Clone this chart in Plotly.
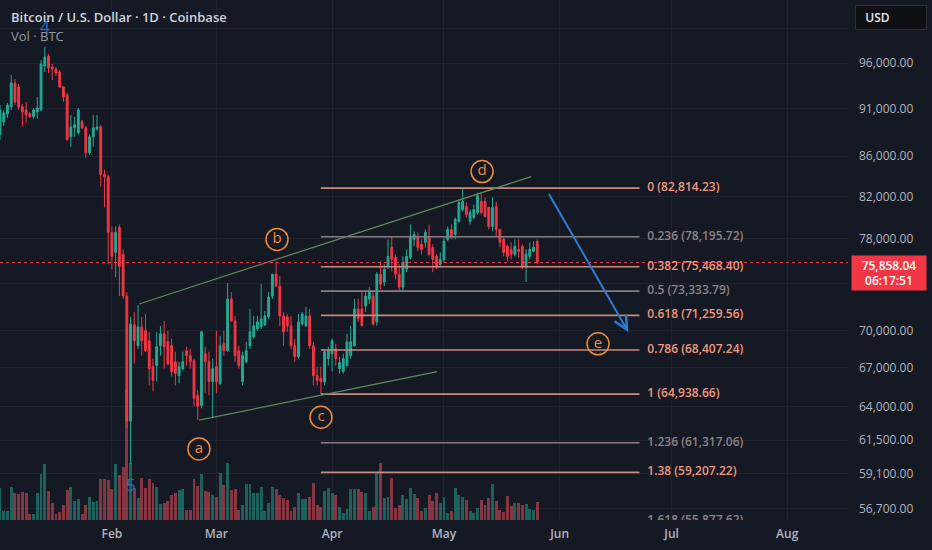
import math
import pandas as pd
import plotly.graph_objects as go

# ---------------- data ----------------
dates = pd.date_range("2026-01-02", periods=145, freq="D")

opens = [88200, 89560, 90410, 91150, 93760, 93320, 91150, 90830, 90410, 90090,
         90620, 90830, 95660, 96800, 95550, 95320, 94990, 93320, 92450, 87990,
         88930, 88410, 89560, 88930, 86350, 87990, 88820, 89030, 84150, 83950,
         78600, 76770, 79060, 76590, 72910, 62900, 70470, 68750, 70300, 69980,
         69160, 67080, 67160, 68750, 69730, 69080, 68750, 67470, 66370, 66920,
         68350, 67950, 67550, 64850, 64090, 68110, 67470, 65910, 67080, 65760,
         68910, 68350, 72650, 70800, 68350, 65910, 67470, 68750, 69480, 70140,
         70300, 70470, 71140, 72910, 74810, 73770, 71220, 71140, 70390, 68750,
         67870, 70550, 70390, 71220, 68750, 66370, 66140, 65910, 67710, 68110,
         68510, 66920, 66690, 67160, 67950, 68750, 71810, 71810, 72060, 72650,
         72910, 70720, 74810, 74120, 75520, 77220, 76320, 74810, 73680, 75250,
         76320, 77950, 78220, 77500, 77680, 78220, 77220, 76410, 75700, 76140,
         77950, 78880, 78410, 79620, 80750, 81040, 79620, 80000, 80470, 81520,
         81520, 80940, 79150, 81040, 78880, 77950, 77320, 77040, 76590, 77040,
         77320, 75430, 76410, 76860, 77770]

highs = [91360, 90830, 91580, 94650, 94200, 93650, 91470, 91690, 90620, 91040,
         92230, 96340, 97830, 97030, 95890, 95550, 95210, 93430, 92670, 90300,
         90090, 91040, 89770, 89130, 88200, 90300, 90300, 89240, 84640, 84150,
         79150, 79150, 79340, 77040, 73250, 71140, 71560, 72140, 71140, 71390,
         69890, 67710, 69890, 70390, 70800, 69980, 69320, 68270, 67470, 68270,
         68670, 68510, 67710, 65230, 69980, 68670, 68270, 67710, 69980, 69560,
         69980, 74030, 73250, 71220, 68750, 68270, 69080, 71810, 71220, 71220,
         73940, 71640, 73250, 74810, 75960, 74640, 71560, 71390, 71220, 69320,
         71390, 71560, 71980, 71810, 69080, 67080, 67080, 68350, 68670, 69320,
         68910, 67870, 68110, 69730, 70390, 72650, 72650, 73250, 73340, 73680,
         73250, 75000, 75960, 75700, 77950, 78220, 76590, 75700, 76410, 77040,
         79340, 78690, 78600, 77950, 78880, 79340, 77500, 76590, 76770, 78130,
         79150, 79340, 80000, 81710, 82814.23, 81420, 80750, 81230, 82380, 82380,
         81900, 81040, 81900, 81520, 78880, 78220, 77500, 77680, 77950, 77950,
         77500, 77040, 77680, 77770, 77950]

lows = [87680, 89130, 89980, 90830, 91360, 90830, 89030, 89450, 89980, 89880,
        89880, 90730, 94990, 94880, 94090, 94540, 93210, 91690, 87580, 86970,
        87990, 88200, 88820, 85840, 86150, 86970, 88610, 82970, 80940, 75700,
        75250, 74550, 72910, 72650, 62380, 59800, 67320, 68510, 67950, 68270,
        65610, 65150, 65910, 67950, 66920, 67160, 66290, 65610, 65760, 66760,
        67160, 66920, 64010, 62970, 63860, 65000, 64850, 63120, 65000, 65610,
        67950, 68270, 70720, 67470, 66920, 65610, 67320, 68510, 69320, 69980,
        70140, 70390, 70970, 72650, 73770, 70390, 68750, 69890, 68510, 67470,
        67710, 70390, 70300, 68510, 65610, 65610, 64938.66, 65610, 67160, 66690,
        67160, 66530, 66530, 67080, 67710, 68670, 70720, 70390, 71560, 72230,
        70390, 70390, 73510, 73770, 75250, 75070, 74380, 73340, 73340, 74990,
        76140, 77320, 76860, 76590, 77220, 76410, 74990, 75250, 75520, 75870,
        77770, 77950, 77950, 79530, 80560, 80000, 79340, 79810, 80280, 80280,
        80000, 78880, 78690, 78220, 77220, 76410, 75960, 76140, 76410, 76320,
        75250, 74120, 76140, 76770, 75700]

closes = [90830, 90510, 91360, 93760, 91680, 91150, 90620, 90300, 90090, 90830,
          91040, 95890, 96680, 95430, 95320, 94880, 93320, 92230, 87680, 89030,
          89240, 90830, 88930, 86350, 87990, 88930, 89030, 84150, 83950, 78600,
          76410, 78600, 75520, 72910, 62900, 70550, 69160, 70300, 69160, 68350,
          66920, 65990, 68670, 69730, 68670, 67320, 66690, 66530, 67080, 67470,
          67950, 67470, 64620, 64010, 69890, 67470, 65910, 66920, 65910, 68750,
          68350, 72650, 70800, 67950, 67160, 67950, 68350, 69890, 70390, 70720,
          70970, 71220, 72820, 74810, 73770, 71220, 69890, 70390, 68750, 67870,
          70720, 71390, 71220, 68750, 66370, 65990, 65910, 68270, 68350, 69160,
          67710, 67400, 67710, 69080, 69080, 71810, 70970, 70390, 72910, 73340,
          70550, 74810, 73940, 75250, 76410, 76140, 74810, 73680, 75870, 76410,
          78220, 78410, 77220, 77040, 78600, 76590, 76140, 75430, 76140, 77770,
          78880, 78130, 79810, 81420, 81520, 80280, 80470, 80750, 82090, 80470,
          80090, 79150, 80940, 78880, 77680, 76770, 76410, 76590, 77320, 76860,
          75430, 76590, 77040, 77220, 75858.04]

volumes = [12800, 3600, 3600, 13200, 10800, 10400, 11200, 10800, 2400, 2400,
           10800, 18400, 22400, 11600, 6800, 2400, 3200, 6000, 12000, 13200,
           7600, 8400, 2400, 6000, 9200, 7200, 7600, 16400, 16400, 16000,
           12400, 22400, 18000, 21200, 52000, 22800, 12800, 8800, 16800, 12800,
           16400, 14800, 13200, 6400, 6800, 7600, 10000, 10800, 12000, 12400,
           4000, 4000, 16400, 13600, 18400, 11600, 11200, 10000, 9200, 18800,
           14000, 22800, 12000, 12400, 4000, 6000, 14400, 14400, 10800, 10800,
           13200, 3600, 6800, 13200, 12400, 10000, 8800, 8000, 3600, 5200,
           10800, 8400, 8400, 9200, 14800, 6000, 5200, 11600, 12800, 10800,
           10000, 5200, 2800, 4400, 12400, 12400, 12400, 11200, 10800, 3600,
           5200, 18800, 22800, 8800, 9200, 16800, 4800, 6000, 10000, 8400,
           12800, 10400, 8800, 3600, 4800, 10000, 7600, 10800, 6800, 9200,
           2800, 3600, 12800, 10000, 9200, 8000, 3600, 2800, 4800, 8000,
           6000, 8800, 14400, 7600, 4000, 3200, 9600, 5600, 6800, 6800,
           6000, 6400, 4400, 4000, 7200]

fib_ratios = ["0", "0.236", "0.382", "0.5", "0.618", "0.786", "1", "1.236", "1.38", "1.618"]
fib_prices = [82814.23, 78195.72, 75468.40, 73333.79, 71259.56, 68407.24,
              64938.66, 61317.06, 59207.22, 55877.62]
fib_muted = [False, True, False, True, False, False, False, True, False, True]

price_ticks = [100000, 96000, 91000, 86000, 82000, 78000, 74000, 70000, 67000,
               64000, 61500, 59100, 56700]
price_tick_labels = ["", "96,000.00", "91,000.00", "86,000.00", "82,000.00",
                     "78,000.00", "", "70,000.00", "67,000.00", "64,000.00",
                     "61,500.00", "59,100.00", "56,700.00"]

wave_labels = ["a", "b", "c", "d", "e"]
wave_dates = ["2026-02-24 08:00", "2026-03-17 06:00", "2026-03-29 01:00",
              "2026-05-11 05:00", "2026-06-11 07:00"]
wave_prices = [60870, 77950, 63190, 84450, 68910]

upper_line_dates = ["2026-02-08 06:30", "2026-05-24 09:00"]
upper_line_prices = [72230, 83950]
lower_line_dates = ["2026-02-24 08:00", "2026-04-29 04:00"]
lower_line_prices = [62970, 66690]

last_price = 75858.04
countdown = "06:17:51"

# ---------------- style ----------------
BG = "#151924"
GRID = "#1f2330"
TXT = "#b2b5be"
UP = "#22ab94"
DN = "#f23645"
FONT = "Open Sans"

x_start = "2026-01-02 00:00"
x_end = "2026-08-17 07:00"
fib_x0 = "2026-03-29 00:00"
fib_x1 = "2026-06-22 10:00"
fib_lbl_x = "2026-06-24 12:00"

fig = go.Figure()

vol_colors = ["rgba(34,171,148,0.5)" if c >= o else "rgba(247,82,95,0.5)"
              for o, c in zip(opens, closes)]
fig.add_trace(go.Bar(x=dates, y=volumes, marker=dict(color=vol_colors, line_width=0),
                     width=0.78 * 86400000, yaxis="y", hoverinfo="skip",
                     showlegend=False))

# fib lines
for r, p, m in zip(fib_ratios, fib_prices, fib_muted):
    fig.add_trace(go.Scatter(x=[fib_x0, fib_x1], y=[p, p], mode="lines",
                             line=dict(color="#8a7c80" if m else "#c88a80", width=1.6),
                             yaxis="y2", hoverinfo="skip", showlegend=False))

# trend lines
fig.add_trace(go.Scatter(x=upper_line_dates, y=upper_line_prices, mode="lines",
                         line=dict(color="#5d8a5c", width=1.2), yaxis="y2",
                         hoverinfo="skip", showlegend=False))
fig.add_trace(go.Scatter(x=lower_line_dates, y=lower_line_prices, mode="lines",
                         line=dict(color="#5d8a5c", width=1.2), yaxis="y2",
                         hoverinfo="skip", showlegend=False))

# last price dotted line
fig.add_trace(go.Scatter(x=[x_start, x_end], y=[last_price, last_price], mode="lines",
                         line=dict(color=DN, width=1, dash="dot"), yaxis="y2",
                         hoverinfo="skip", showlegend=False))

fig.add_trace(go.Candlestick(
    x=dates, open=opens, high=highs, low=lows, close=closes, yaxis="y2",
    increasing=dict(line=dict(color=UP, width=1), fillcolor=UP),
    decreasing=dict(line=dict(color=DN, width=1), fillcolor=DN),
    whiskerwidth=0, showlegend=False, hoverinfo="skip"))

# fib labels (clipped to plot area)
fig.add_trace(go.Scatter(
    x=[fib_lbl_x] * len(fib_prices), y=fib_prices, mode="text",
    text=[f"{r} ({p:,.2f})" for r, p in zip(fib_ratios, fib_prices)],
    textposition="middle right",
    textfont=dict(family=FONT, size=12, weight=600,
                  color=["#8f8285" if m else "#f0967e" for m in fib_muted]),
    yaxis="y2", hoverinfo="skip", showlegend=False, cliponaxis=True))

# wave labels
fig.add_trace(go.Scatter(
    x=wave_dates, y=wave_prices, mode="markers+text", text=wave_labels,
    textposition="middle center",
    marker=dict(symbol="circle-open", size=22, color="#ef8a3c",
                line=dict(width=1.5, color="#ef8a3c")),
    textfont=dict(family=FONT, size=15, color="#ef8a3c"),
    yaxis="y2", hoverinfo="skip", showlegend=False))

annotations = [
    dict(x="2026-01-14 01:00", y=math.log10(100200), xref="x", yref="y2", text="4",
         showarrow=False, font=dict(family=FONT, size=17, color="#2f68b8")),
    dict(x="2026-02-06 03:00", y=math.log10(58330), xref="x", yref="y2", text="5",
         showarrow=False, font=dict(family=FONT, size=17, color="#2f68b8")),
    dict(x=9 / 848, y=1 - 17 / 520, xref="paper", yref="paper",
         text="Bitcoin / U.S. Dollar · 1D · Coinbase", showarrow=False,
         xanchor="left", yanchor="middle",
         font=dict(family=FONT, size=13, color="#d1d4dc", weight=600)),
    dict(x=9 / 848, y=1 - 36 / 520, xref="paper", yref="paper",
         text="Vol · BTC", showarrow=False, xanchor="left", yanchor="middle",
         font=dict(family=FONT, size=13, color="#9598a1")),
    # forecast arrow
    dict(x="2026-06-19 10:00", y=math.log10(69880), xref="x", yref="y2",
         ax="2026-05-28 22:00", ay=math.log10(82390), axref="x", ayref="y2",
         text="", showarrow=True, arrowhead=5, arrowsize=1.3, arrowwidth=2,
         arrowcolor="#2f7bd0"),
    # USD box
    dict(x=855 / 848, y=1 - 17.5 / 520, xref="paper", yref="paper",
         text="&nbsp;&nbsp;USD", showarrow=False, xanchor="left", yanchor="middle",
         align="left", width=64, height=17, borderpad=3, borderwidth=1,
         bordercolor="#2a2e39", bgcolor="#0e1014",
         font=dict(family=FONT, size=12, color="#e6e8ee", weight=600)),
    # last price box
    dict(x=851 / 848, y=1 - 273 / 520, xref="paper", yref="paper",
         text=f"{last_price:,.2f}<br>{countdown}", showarrow=False,
         xanchor="left", yanchor="middle", align="center", width=70, height=30,
         borderpad=2, bgcolor=DN,
         font=dict(family=FONT, size=12, color="#ffffff", weight=600)),
]

fig.update_layout(
    width=932, height=550,
    margin=dict(l=0, r=84, t=0, b=30),
    paper_bgcolor=BG, plot_bgcolor=BG,
    font=dict(family=FONT, color=TXT, size=12),
    showlegend=False,
    bargap=0,
    annotations=annotations,
    xaxis=dict(type="date", range=[x_start, x_end], rangeslider=dict(visible=False),
               showgrid=True, gridcolor=GRID, gridwidth=1, zeroline=False,
               showline=False, ticks="", dtick="M1", tick0="2026-01-01",
               tickformat="%b", ticklabelstandoff=5,
               tickfont=dict(family=FONT, size=12, color=TXT, weight=600),
               fixedrange=True),
    yaxis=dict(range=[0, 208000], visible=False, showgrid=False, fixedrange=True),
    yaxis2=dict(type="log", overlaying="y", side="right",
                range=[math.log10(55968), math.log10(103416)],
                tickvals=price_ticks, ticktext=price_tick_labels,
                showgrid=True, gridcolor=GRID, gridwidth=1, zeroline=False,
                showline=False, ticks="", ticklabelstandoff=10,
                tickfont=dict(family=FONT, size=12, color=TXT),
                fixedrange=True),
)

fig.write_html(
    "out.html",
    config={"displayModeBar": False},
    post_script="document.body.style.margin='0';"
                "document.body.style.background='#151924';",
)
